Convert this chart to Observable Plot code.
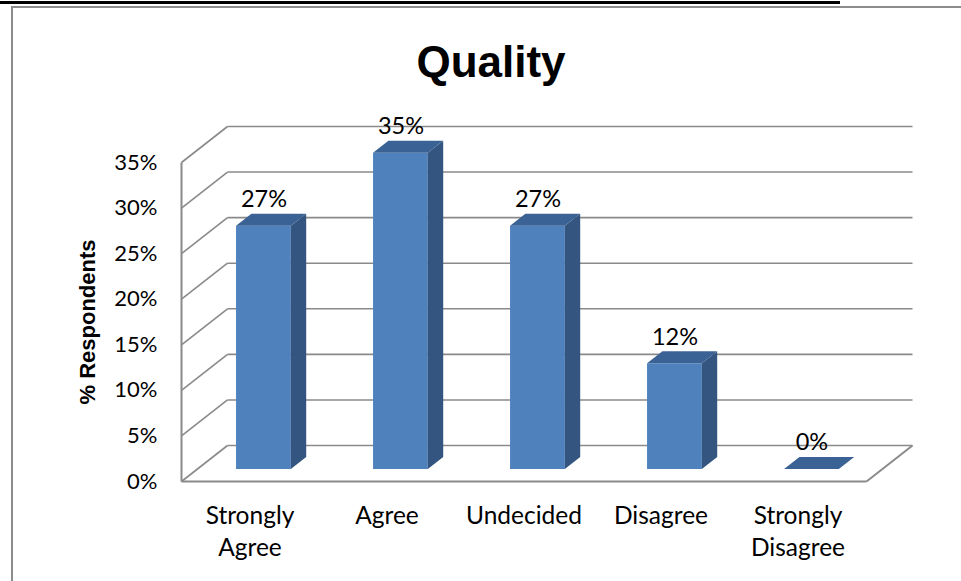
<!DOCTYPE html>
<html>
<head>
<meta charset="utf-8">
<script src="https://cdn.jsdelivr.net/npm/d3@7"></script>
<script src="https://cdn.jsdelivr.net/npm/@observablehq/plot@0.6"></script>
<style>
  html, body { margin: 0; padding: 0; background: #fff; width: 961px; height: 581px; overflow: hidden; }
  #wrap { position: relative; width: 961px; height: 581px; }
  #topline { position: absolute; left: 0; top: 1px; width: 840px; height: 3px; background: #000; }
  #frame { position: absolute; left: 11px; top: 6px; width: 1000px; height: 1000px; border-left: 2px solid #8c8c8c; border-top: 2px solid #8c8c8c; }
  #chart { position: absolute; left: 0; top: 0; }
  #chart svg { font-family: Lato, "Open Sans", sans-serif; }
  g[aria-label="y-axis label"] text { font-family: "Liberation Sans Narrow", "Liberation Sans", Arial, sans-serif; font-weight: bold; font-size: 22px; }
</style>
</head>
<body>
<div id="wrap">
  <div id="topline"></div>
  <div id="frame"></div>
  <div id="chart"></div>
</div>
<script>
// ---- data ----
const categories = ["Strongly Agree", "Agree", "Undecided", "Disagree", "Strongly Disagree"];
const values = [26.7, 34.7, 26.7, 11.6, 0];
const valueLabels = ["27%", "35%", "27%", "12%", "0%"];
const yTicks = [0, 5, 10, 15, 20, 25, 30, 35];
const title = "Quality";
const yLabel = "% Respondents";

// ---- 3D projection helpers (in data units) ----
const DX = 46 / 137;   // full depth shift along x (category units)
const DY = 36 / 9.114; // full depth shift along y (percent units)
const d0 = 0.333, d1 = 0.667; // bar front/back depth
const a = 0.29, b = 0.69;     // bar extent within category band
const nCat = categories.length;
const yMax = yTicks[yTicks.length - 1];

const bars = categories.map((c, i) => ({c, i, v: values[i], label: valueLabels[i]}));

// back wall gridlines
const backGrid = yTicks.map(t => ({x1: 0 + DX, y1: t + DY, x2: nCat + DX, y2: t + DY}));
// left wall diagonals
const sideGrid = yTicks.map(t => ({x1: 0, y1: t, x2: DX, y2: t + DY}));
// floor edges + front vertical
const edges = [
  {x1: 0, y1: 0, x2: 0, y2: yMax},
  {x1: 0, y1: 0, x2: nCat, y2: 0},
  {x1: nCat, y1: 0, x2: nCat + DX, y2: DY}
];
// side faces (areaY, two points per bar)
const sidePts = bars.flatMap(d => [
  {c: d.c, x: d.i + b + d0 * DX, y1: d0 * DY, y2: d.v + d0 * DY},
  {c: d.c, x: d.i + b + d1 * DX, y1: d1 * DY, y2: d.v + d1 * DY}
]);
// top faces (areaX, two points per bar)
const topPts = bars.flatMap(d => [
  {c: d.c, y: d.v + d0 * DY, x1: d.i + a + d0 * DX, x2: d.i + b + d0 * DX},
  {c: d.c, y: d.v + d1 * DY, x1: d.i + a + d1 * DX, x2: d.i + b + d1 * DX}
]);

const grid = "#8a8a8a";

const chart = Plot.plot({
  width: 961,
  height: 581,
  marginLeft: 181,
  marginRight: 95,
  marginTop: 162,
  marginBottom: 100,
  x: {type: "linear", domain: [0, nCat]},
  y: {type: "linear", domain: [0, yMax]},
  style: {fontFamily: "Lato, 'Open Sans', sans-serif", overflow: "visible"},
  marks: [
    Plot.link(backGrid, {x1: "x1", y1: "y1", x2: "x2", y2: "y2", stroke: grid, strokeWidth: 1.6}),
    Plot.link(sideGrid, {x1: "x1", y1: "y1", x2: "x2", y2: "y2", stroke: grid, strokeWidth: 1.6}),
    Plot.link(edges, {x1: "x1", y1: "y1", x2: "x2", y2: "y2", stroke: grid, strokeWidth: 2}),
    // bar front faces
    Plot.rect(bars, {
      x1: d => d.i + a + d0 * DX, x2: d => d.i + b + d0 * DX,
      y1: d => d0 * DY, y2: d => d.v + d0 * DY,
      fill: "#4F81BD"
    }),
    // side faces
    Plot.areaY(sidePts, {x: "x", y1: "y1", y2: "y2", z: "c", fill: "#33557F", curve: "linear"}),
    // top faces
    Plot.areaX(topPts, {y: "y", x1: "x1", x2: "x2", z: "c", fill: "#3B6294", curve: "linear"}),
    // value labels
    Plot.text(bars, {
      x: d => d.i + (a + b) / 2 + d0 * DX,
      y: d => d.v + d1 * DY,
      text: "label",
      dy: -7,
      lineAnchor: "bottom",
      fontSize: 23.5,
      fill: "#000"
    }),
    // y axis
    Plot.axisY({
      ticks: yTicks,
      tickFormat: d => d + "%",
      tickSize: 0,
      tickPadding: 24,
      fontSize: 22,
      label: yLabel,
      labelAnchor: "center",
      labelArrow: "none",
      labelOffset: 102,
      color: "#000"
    }),
    // x axis (category labels)
    Plot.axisX({
      ticks: categories.map((c, i) => i + 0.5),
      tickFormat: d => categories[Math.floor(d)],
      tickSize: 0,
      tickPadding: 20,
      fontSize: 24.5,
      lineWidth: 5,
      lineHeight: 1.3,
      label: null,
      color: "#000"
    }),
    // title
    Plot.text([title], {
      frameAnchor: "top",
      dx: -33,
      dy: -86,
      lineAnchor: "bottom",
      fontSize: 44,
      fontWeight: "bold",
      fontFamily: "'Liberation Sans Narrow', 'Liberation Sans', Arial, sans-serif",
      fill: "#000"
    })
  ]
});

document.getElementById("chart").appendChild(chart);
</script>
</body>
</html>
